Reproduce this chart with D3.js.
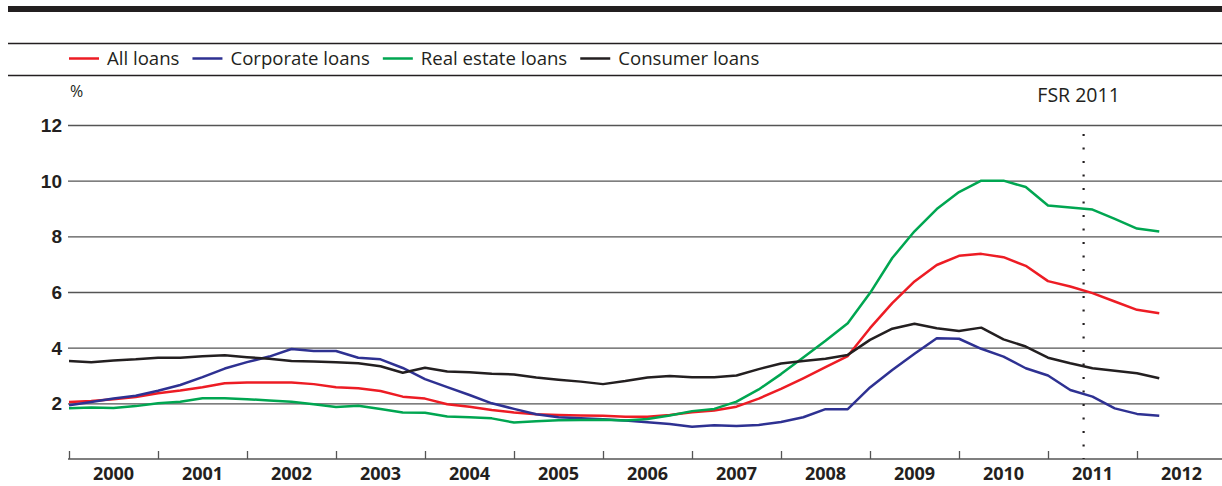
<!DOCTYPE html>
<html>
<head>
<meta charset="utf-8">
<script src="https://cdn.jsdelivr.net/npm/d3@7"></script>
<style>
    body { margin: 0; background: #fff; }
    svg { display: block; font-family: "Open Sans", sans-serif; }
</style>
</head>
<body>
<svg width="1222" height="486"></svg>
<script>
// quarterly values, 2000 Q1 .. 2012 Q2
const allLoans = [2.05, 2.08, 2.15, 2.23, 2.36, 2.46, 2.58, 2.72, 2.75, 2.75, 2.75, 2.69, 2.58, 2.54, 2.44, 2.24,
    2.17, 1.97, 1.88, 1.76, 1.67, 1.61, 1.58, 1.56, 1.55, 1.52, 1.52, 1.58, 1.68, 1.74, 1.88, 2.17,
    2.52, 2.9, 3.3, 3.7, 4.7, 5.6, 6.38, 6.97, 7.3, 7.37, 7.25, 6.94, 6.39, 6.2, 5.96, 5.66, 5.36, 5.24]
const corporateLoans = [1.93, 2.05, 2.17, 2.27, 2.45, 2.66, 2.94, 3.25, 3.48, 3.68, 3.95, 3.88, 3.88, 3.64, 3.58, 3.27,
    2.87, 2.58, 2.3, 2.0, 1.8, 1.61, 1.5, 1.46, 1.43, 1.38, 1.32, 1.26, 1.16, 1.21, 1.19, 1.22,
    1.33, 1.5, 1.79, 1.79, 2.57, 3.2, 3.78, 4.34, 4.32, 3.96, 3.68, 3.26, 3.0, 2.48, 2.24, 1.82, 1.62, 1.55]
const realEstateLoans = [1.82, 1.85, 1.83, 1.9, 2.0, 2.06, 2.18, 2.18, 2.15, 2.1, 2.06, 1.97, 1.87, 1.91, 1.8, 1.67,
    1.66, 1.53, 1.5, 1.46, 1.31, 1.36, 1.39, 1.4, 1.41, 1.38, 1.44, 1.56, 1.72, 1.8, 2.06, 2.5,
    3.05, 3.65, 4.25, 4.88, 5.96, 7.22, 8.18, 8.98, 9.59, 10.0, 10.0, 9.77, 9.11, 9.04, 8.96, 8.63, 8.28, 8.17]
const consumerLoans = [3.52, 3.48, 3.54, 3.58, 3.64, 3.64, 3.69, 3.73, 3.66, 3.6, 3.52, 3.5, 3.48, 3.44, 3.33, 3.1,
    3.28, 3.14, 3.12, 3.06, 3.04, 2.93, 2.85, 2.78, 2.69, 2.8, 2.93, 2.98, 2.94, 2.94, 3.0, 3.23,
    3.43, 3.52, 3.6, 3.74, 4.28, 4.68, 4.86, 4.7, 4.6, 4.72, 4.3, 4.04, 3.64, 3.44, 3.26, 3.17, 3.08, 2.9]

const seriesNames = ["All loans", "Corporate loans", "Real estate loans", "Consumer loans"]
const startYear = 2000
const yearLabels = ["2000", "2001", "2002", "2003", "2004", "2005", "2006", "2007", "2008", "2009", "2010", "2011", "2012"]
const yTicks = [2, 4, 6, 8, 10, 12]
const fsrDate = 2011.4
const fsrLabel = "FSR 2011"

let svg = d3.select("svg"),
    W = +svg.attr("width"),
    margin = {left: 69, top: 125, bottom: 459}

const colors = ['#ed1c24', '#2e3192', '#00a651', '#231f20']
const series = [allLoans, corporateLoans, realEstateLoans, consumerLoans]

let x = d3.scaleLinear()
    .domain([startYear, startYear + yearLabels.length])
    .range([margin.left, margin.left + 89 * yearLabels.length])

let y = d3.scaleLinear()
    .domain([0, 12])
    .range([margin.bottom, margin.top])

// header rules
svg.append("rect").attr("x", 8).attr("y", 6).attr("width", W - 8).attr("height", 6).attr("fill", "#231f20")
svg.append("line").attr("x1", 8).attr("x2", W).attr("y1", 43.5).attr("y2", 43.5)
    .attr("stroke", "#231f20").attr("stroke-width", 1.5)
svg.append("line").attr("x1", 8).attr("x2", W).attr("y1", 75.5).attr("y2", 75.5)
    .attr("stroke", "#231f20").attr("stroke-width", 1.5)

// legend
let lx = 69
seriesNames.forEach(function (name, i) {
    svg.append("line")
        .attr("x1", lx).attr("x2", lx + 30).attr("y1", 58.5).attr("y2", 58.5)
        .attr("stroke", colors[i]).attr("stroke-width", 2.5)
    let t = svg.append("text")
        .attr("x", lx + 38).attr("y", 65)
        .attr("fill", "#231f20")
        .style("font-size", "18.6px")
        .text(name)
    lx += 38 + t.node().getComputedTextLength() + 13
})

svg.append("text")
    .attr("x", 70).attr("y", 97)
    .attr("fill", "#231f20")
    .style("font-size", "16px")
    .text("%")

// y grid + labels
let yAxis = d3.axisRight(y).tickValues(yTicks).tickSize(W - 68).tickFormat(d3.format("d"))
let gy = svg.append("g")
    .attr("transform", "translate(68,0)")
    .call(yAxis)
gy.select(".domain").remove()
gy.selectAll("line").attr("stroke", "#555").attr("stroke-width", 1.3)
gy.selectAll("text")
    .attr("x", -6).attr("dy", "0.35em")
    .attr("text-anchor", "end")
    .attr("fill", "#231f20")
    .style("font-size", "19px").style("font-weight", "bold")

// x axis
let xAxis = d3.axisBottom(x)
    .tickValues(yearLabels.map((d, i) => startYear + i))
    .tickSize(-8).tickFormat("")
let gx = svg.append("g")
    .attr("transform", "translate(0," + margin.bottom + ")")
    .call(xAxis)
gx.select(".domain").attr("stroke", "#555").attr("stroke-width", 1.5)
    .attr("d", "M68,0H" + W)
gx.selectAll("line").attr("stroke", "#555").attr("stroke-width", 1.3)

svg.append("g").selectAll("text").data(yearLabels)
    .enter().append("text")
    .attr("x", (d, i) => x(startYear + i + 0.5))
    .attr("y", 480)
    .attr("text-anchor", "middle")
    .attr("fill", "#231f20")
    .style("font-size", "18px").style("font-weight", "bold")
    .text(d => d)

// FSR marker
svg.append("line")
    .attr("x1", x(fsrDate)).attr("x2", x(fsrDate))
    .attr("y1", 134).attr("y2", margin.bottom)
    .attr("stroke", "#231f20").attr("stroke-width", 2.2)
    .attr("stroke-dasharray", "2,11.5")
svg.append("text")
    .attr("x", x(fsrDate) - 5).attr("y", 102)
    .attr("text-anchor", "middle")
    .attr("fill", "#231f20")
    .style("font-size", "19.5px")
    .text(fsrLabel)

// lines
let line = d3.line()
    .x((d, i) => x(startYear + i / 4))
    .y(d => y(d))

for (let i = 0; i < series.length; i++) {
    svg.append("path")
        .datum(series[i])
        .attr("fill", "none")
        .attr("stroke", colors[i])
        .attr("stroke-width", 2.5)
        .attr("stroke-linejoin", "round")
        .attr("d", line)
}
</script>
</body>
</html>
